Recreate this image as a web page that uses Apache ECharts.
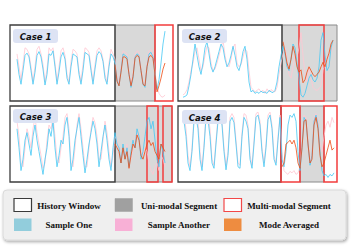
<!DOCTYPE html>
<html><head><meta charset="utf-8">
<script src="https://cdn.jsdelivr.net/npm/echarts@6/dist/echarts.min.js"></script>
<style>html,body{margin:0;padding:0;background:#fff}#c{width:357px;height:248px}</style>
</head><body><div id="c"></div>
<script>
// ---- Case 1 ----
const case1Blue = [55,35,22,40,60,63,58,40,22,38, 60,65,58,42,21,35,62,60,66,45, 22,38,58,64,55,30,22,45,62,60, 58,35,22,40,64,62,60,40,22,42, 60,65,62,52,30,22,45,62,58,50, 28,20,40,62,60,58,35,18,30,58, 62,60,40,22,18,45,62,64,58,35, 15,28,50,75,92];
const case1Pink = [62,45,28,48,70,68,62,45,26,45, 68,72,62,48,25,42,70,66,70,50, 26,45,66,70,60,35,25,52,68,66, 62,40,26,48,70,68,64,45,26,48, 66,70,66,55,35,25,50,68,62,55, 32,24,45,66,64,62,40,22,35,62, 66,64,45,26,22,50,66,68,60,38, 20,10,6,5,8];
const case1Orange = [48,26,20,38,58,58,55,35,20,32, 56,60,58,40,22,20,45,58,60,56, 35,12,20,30,42,50];
const case1OrangeStart = 49;
const case1Range = [-3.5, 78];
const case1History = [-3.5, 49];
const case1Uni = [[49, 69]];
const case1Multi = [[69, 78]];

// ---- Case 2 ----
const case2Blue = [5,6,8,20,35,55,75,60,45,35, 50,70,78,62,45,38,45,55,65,75, 70,55,45,50,60,72,60,45,40,50, 65,72,55,25,12,14,10,12,10,13, 11,12,10,14,12,11,14,25,45,60, 72,62,45,40,55,75,70,50,30,8, 5,10,20,30,35,28,25,30,45,80, 90,60,40,45,70,80];
const case2Pink = [8,10,15,25,40,50,65,70,55,40, 45,60,72,70,50,40,42,50,60,70, 80,60,48,45,55,70,75,50,45,48, 58,68,65,40,18,15,12,14,16,12, 14,10,16,12,15,13,12,18,35,50, 62,70,55,35,30,45,60,58,70,90, 60,35,25,45,30,18,15,14,16,20, 40,50,55,60,65,70];
const case2Orange = [78,65,50,42,55,72,62,45,38,41, 24,28,38,45,40,35,32,35,38,45, 51,45,55,63,75,80];
const case2OrangeStart = 50;
const case2Range = [-2.5, 77];
const case2History = [-2.5, 49.5];
const case2Uni = [[49.5, 77]];
const case2Multi = [[58, 70.5]];

// ---- Case 3 ----
const case3Blue = [70,45,15,30,55,65,50,35,60,75, 55,40,25,10,30,45,70,60,80,45, 20,35,55,50,75,85,60,15,30,55, 70,85,60,35,12,30,50,65,80,70, 50,20,40,60,75,55,30,15,45,65, 50,45,25,50,30,45,20,40,55,45, 70,60,30,40,60,80,85,70,80,55, 30,20,50,40,25];
const case3Pink = [80,60,25,20,45,70,60,45,70,85, 65,50,35,18,25,55,75,70,85,60, 30,25,45,60,85,90,70,25,20,45, 75,90,70,45,20,20,45,70,85,78, 60,30,30,55,80,65,40,20,35,60, 55,40,30,40,35,50,25,30,45,55, 65,55,40,35,45,40,25,15,10,20, 25,15,35,30,20];
const case3Orange = [50,45,40,25,45,30,40,18,35,50, 45,62,55,35,30,40,50,55,48,52, 40,35,30,50,45,40];
const case3OrangeStart = 49;
const case3Range = [-3.5, 77.5];
const case3History = [-3.5, 49];
const case3Uni = [[49, 77.5]];
const case3Multi = [[65, 70.5], [73, 77.5]];

// ---- Case 4 ----
const case4Blue = [80,60,25,15,40,80,85,70,30,15, 45,85,82,60,25,18,50,80,88,75, 40,16,35,80,85,78,50,20,18,60, 85,80,70,30,18,50,85,88,75,40, 20,45,82,88,70,30,22,55,85,30, 20,40,75,88,85,90,80,40,15,45, 85,80,50,22,35,80,88,75,40,15, 8,10,6,10,8,12];
const case4Pink = [88,70,35,20,45,85,90,80,40,20, 50,88,90,70,30,22,55,85,92,80, 45,22,40,85,90,85,55,25,22,65, 90,88,75,35,22,55,90,92,80,45, 25,50,88,92,75,35,25,60,88,40, 15,12,10,14,12,15,10,12,20,50, 88,85,55,25,40,85,90,80,50,40, 60,75,80,72,85,78];
const case4Orange = [20,25,50,52,55,50,55,45,25,18, 45,80,82,50,25,30,75,85,70,35, 20,25,35,45,55,42,45];
const case4OrangeStart = 49;
const case4Range = [-3, 76.5];
const case4History = [-3, 48.5];
const case4Uni = [[58, 70]];
const case4Multi = [[48.5, 58], [70, 76.5]];

const caseNames = ['Case 1', 'Case 2', 'Case 3', 'Case 4'];
const legendRow1 = ['History Window', 'Uni-modal Segment', 'Multi-modal Segment'];
const legendRow2 = ['Sample One', 'Sample Another', 'Mode Averaged'];

const panels = [
  {blue: case1Blue, pink: case1Pink, orange: case1Orange, oStart: case1OrangeStart, range: case1Range, history: case1History, uni: case1Uni, multi: case1Multi},
  {blue: case2Blue, pink: case2Pink, orange: case2Orange, oStart: case2OrangeStart, range: case2Range, history: case2History, uni: case2Uni, multi: case2Multi},
  {blue: case3Blue, pink: case3Pink, orange: case3Orange, oStart: case3OrangeStart, range: case3Range, history: case3History, uni: case3Uni, multi: case3Multi},
  {blue: case4Blue, pink: case4Pink, orange: case4Orange, oStart: case4OrangeStart, range: case4Range, history: case4History, uni: case4Uni, multi: case4Multi}
];
const gridBoxes = [
  {left: 10, top: 25, width: 163, height: 76},
  {left: 178, top: 25, width: 159, height: 76},
  {left: 10, top: 106, width: 162, height: 76},
  {left: 178, top: 106, width: 159, height: 76}
];
const labelPos = [[13, 29], [182, 29], [13, 109], [182, 110]];

const C_BLUE = '#45c8f4', C_PINK = '#ffc6d2', C_ORANGE = '#ee4a12';

const grids = [], xAxes = [], yAxes = [], series = [];
panels.forEach((p, k) => {
  grids.push(Object.assign({containLabel: false}, gridBoxes[k]));
  xAxes.push({type: 'value', gridIndex: k, min: p.range[0], max: p.range[1], show: false});
  yAxes.push({type: 'value', gridIndex: k, min: 0, max: 100, show: false});
  const areas = [];
  p.uni.forEach(u => areas.push([{xAxis: u[0], itemStyle: {color: '#d9d9d9', borderColor: '#8a8a8a', borderWidth: 1}}, {xAxis: u[1]}]));
  areas.push([{xAxis: p.history[0], itemStyle: {color: 'rgba(255,255,255,0)', borderColor: '#3c3c3c', borderWidth: 1.3}}, {xAxis: p.history[1]}]);
  series.push({type: 'line', xAxisIndex: k, yAxisIndex: k, data: [], z: 1, silent: true,
    markArea: {silent: true, label: {show: false}, data: areas}});
  series.push({type: 'line', name: 'Sample Another', xAxisIndex: k, yAxisIndex: k, z: 2, showSymbol: false, silent: true,
    lineStyle: {color: C_PINK, width: 0.8}, itemStyle: {color: C_PINK}, data: p.pink.map((v, i) => [i, v])});
  series.push({type: 'line', name: 'Sample One', xAxisIndex: k, yAxisIndex: k, z: 3, showSymbol: false, silent: true,
    lineStyle: {color: C_BLUE, width: 0.8}, itemStyle: {color: C_BLUE}, data: p.blue.map((v, i) => [i, v])});
  series.push({type: 'line', name: 'Mode Averaged', xAxisIndex: k, yAxisIndex: k, z: 4, showSymbol: false, silent: true,
    lineStyle: {color: C_ORANGE, width: 0.8}, itemStyle: {color: C_ORANGE}, data: p.orange.map((v, i) => [i + p.oStart, v])});
  series.push({type: 'line', xAxisIndex: k, yAxisIndex: k, data: [], z: 5, silent: true,
    markArea: {silent: true, label: {show: false},
      data: p.multi.map(m => [{xAxis: m[0], itemStyle: {color: 'rgba(255,255,255,0)', borderColor: '#f23c3c', borderWidth: 1.5}}, {xAxis: m[1]}])}});
});

const graphic = [];
caseNames.forEach((name, k) => {
  const [x, y] = labelPos[k];
  graphic.push({type: 'rect', z: 100, shape: {x: x, y: y, width: 45, height: 14, r: 3}, style: {fill: '#dde3f4'}});
  graphic.push({type: 'text', z: 101, style: {text: name, x: x + 22.5, y: y + 7.5, textAlign: 'center', textVerticalAlign: 'middle', align: 'center', verticalAlign: 'middle',
    font: 'italic bold 8.5px "DejaVu Sans"', fill: '#111'}});
});
// legend box
graphic.push({type: 'rect', z: 100, shape: {x: 3, y: 190, width: 343, height: 50, r: 4},
  style: {fill: '#efefef', stroke: '#dadada', lineWidth: 1, shadowBlur: 3, shadowOffsetX: 1, shadowOffsetY: 1.5, shadowColor: 'rgba(0,0,0,0.35)'}});
const swX = [14, 115, 224];
const txX = [69, 179, 289];
const row1Style = [
  {fill: '#ffffff', stroke: '#3a3a3a', lineWidth: 1.2},
  {fill: '#a0a0a0', stroke: '#a0a0a0', lineWidth: 0.5},
  {fill: '#ffffff', stroke: '#f24848', lineWidth: 1.2}
];
const row2Fill = ['#92cddc', '#f8b0d6', '#ee8c40'];
legendRow1.forEach((t, i) => {
  graphic.push({type: 'rect', z: 101, shape: {x: swX[i], y: 198.5, width: 17.5, height: 13}, style: row1Style[i]});
  graphic.push({type: 'text', z: 101, style: {text: t, x: txX[i], y: 205.5, textAlign: 'center', textVerticalAlign: 'middle', align: 'center', verticalAlign: 'middle',
    font: 'bold 9px "Liberation Serif"', fill: '#111'}});
});
legendRow2.forEach((t, i) => {
  graphic.push({type: 'rect', z: 101, shape: {x: swX[i], y: 218.5, width: 17.5, height: 12.5}, style: {fill: row2Fill[i]}});
  graphic.push({type: 'text', z: 101, style: {text: t, x: txX[i], y: 225, textAlign: 'center', textVerticalAlign: 'middle', align: 'center', verticalAlign: 'middle',
    font: 'bold 9px "Liberation Serif"', fill: '#111'}});
});

const chart = echarts.init(document.getElementById('c'), null, {renderer: 'svg', width: 357, height: 248});
chart.setOption({
  animation: false,
  backgroundColor: '#ffffff',
  grid: grids, xAxis: xAxes, yAxis: yAxes, series: series, graphic: graphic
});
</script></body></html>
